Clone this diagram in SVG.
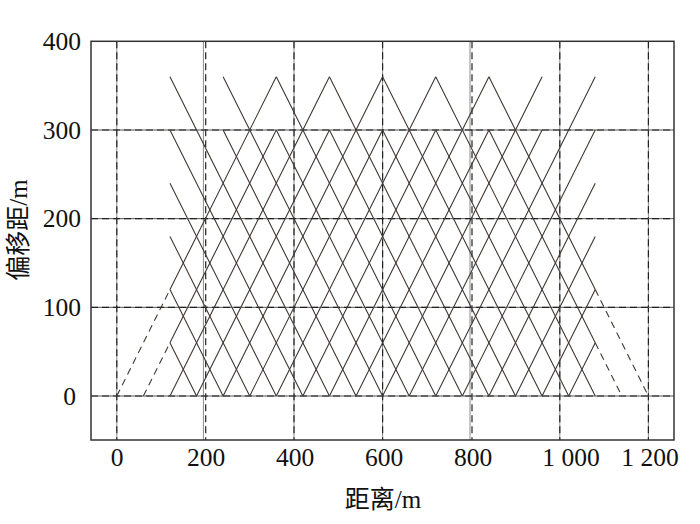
<svg xmlns="http://www.w3.org/2000/svg" width="700" height="524" viewBox="0 0 700 524">
<style>
.gs{stroke:#8a8a8a;stroke-width:1;fill:none}
.gsh{stroke:#555;stroke-width:1;fill:none}
.gd{stroke:#222;stroke-width:1.2;stroke-dasharray:7 4;fill:none}
.ln{stroke:#403833;stroke-width:1.1;fill:none}
.lnd{stroke:#403833;stroke-width:1.1;stroke-dasharray:7 5;fill:none}
.t{font-family:"Liberation Serif","Noto Sans CJK SC",serif;font-size:25.5px;fill:#111}
.ti{font-family:"Liberation Serif","Noto Sans CJK SC",serif;font-size:25px;fill:#111}
</style>
<rect width="700" height="524" fill="#fff"/>
<g id="grid">
<path class="gs" d="M116.8 41.3V440M203.4 41.3V440M294 41.3V440M382.6 41.3V440M470 41.3V440M559.8 41.3V440M648.4 41.3V440"/>
<path class="gd" d="M116.8 41.3V440M205.7 41.3V440M294 41.3V440M382.6 41.3V440M472 41.3V440M559.8 41.3V440M648.4 41.3V440"/>
<path class="gsh" d="M91 130H674M91 218.66H674M91 307.33H674M91 396H674"/>
<path class="gd" d="M91 130H674M91 218.66H674M91 307.33H674M91 396H674"/>
</g>
<g id="connectors">
<path class="ln" d="M169.96 289.6L276.28 76.79M169.96 342.8L276.28 130M169.96 396L329.44 76.79M196.54 396L329.44 130M223.12 396L382.6 76.79M249.7 396L382.6 130M276.28 396L435.76 76.79M302.86 396L435.76 130M329.44 396L488.92 76.79M356.02 396L488.92 130M382.6 396L542.08 76.79M409.18 396L542.08 130M435.76 396L595.24 76.79M462.34 396L595.24 130M488.92 396L595.24 183.2M515.5 396L595.24 236.4M542.08 396L595.24 289.6M568.66 396L595.24 342.8"/>
<path class="ln" d="M169.96 342.8L196.54 396M169.96 289.6L223.12 396M169.96 236.4L249.7 396M169.96 183.2L276.28 396M169.96 130L302.86 396M169.96 76.79L329.44 396M223.12 130L356.02 396M223.12 76.79L382.6 396M276.28 130L409.18 396M276.28 76.79L435.76 396M329.44 130L462.34 396M329.44 76.79L488.92 396M382.6 130L515.5 396M382.6 76.79L542.08 396M435.76 130L568.66 396M435.76 76.79L595.24 396M488.92 130L595.24 342.8M488.92 76.79L595.24 289.6"/>
<path class="lnd" d="M116.8 396L169.96 289.6M143.38 396L169.96 342.8M595.24 342.8L621.82 396M595.24 289.6L648.4 396"/>
</g>
<rect id="frame" x="91" y="41.3" width="583" height="398.7" fill="none" stroke="#333" stroke-width="1.5"/>
<g id="ylabels" class="t" text-anchor="end">
<text x="81" y="50">400</text>
<text x="81" y="138.5">300</text>
<text x="81" y="227.2">200</text>
<text x="81" y="315.8">100</text>
<text x="76" y="404.5">0</text>
</g>
<g id="xlabels" class="t" text-anchor="middle">
<text x="117" y="466">0</text>
<text x="206" y="466">200</text>
<text x="295" y="466">400</text>
<text x="384" y="466">600</text>
<text x="473" y="466">800</text>
<text x="571" y="466">1 000</text>
<text x="650" y="466">1 200</text>
</g>
<text id="xtitle" class="ti" x="383" y="508" text-anchor="middle">距离/m</text>
<text id="ytitle" class="ti" transform="translate(27,230) rotate(-90)" text-anchor="middle">偏移距/m</text>
</svg>
